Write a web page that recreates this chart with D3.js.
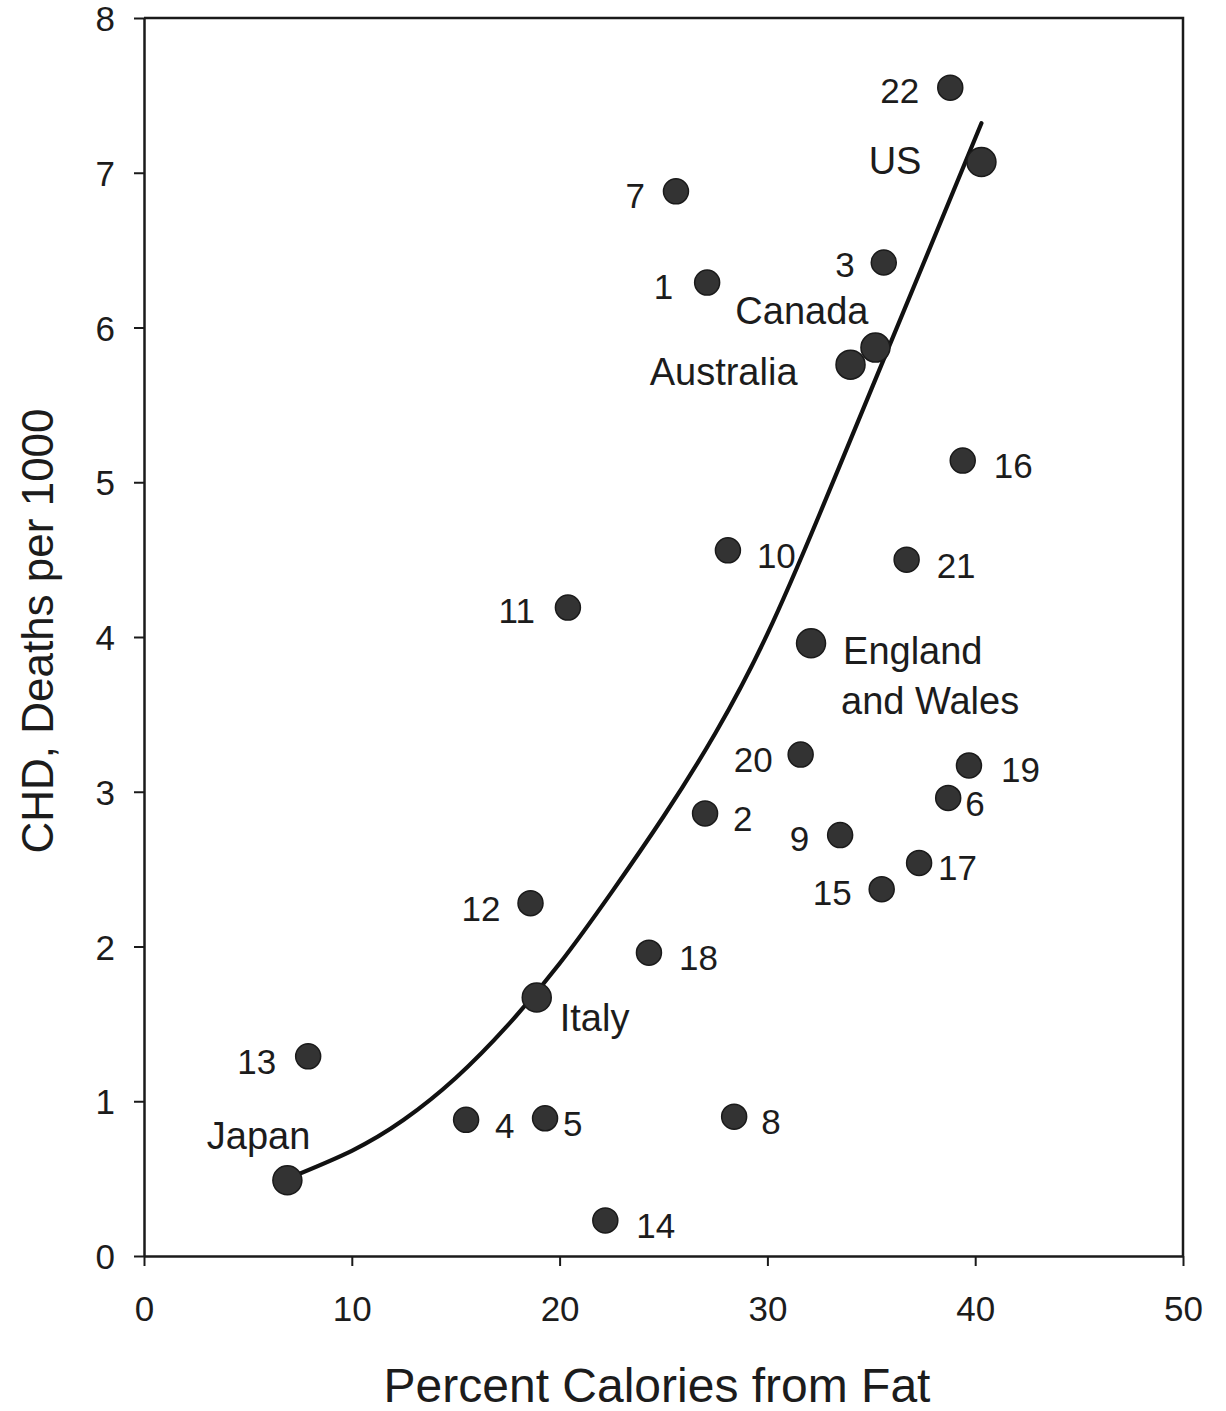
<!DOCTYPE html>
<html>
<head>
<meta charset="utf-8">
<script src="https://cdn.jsdelivr.net/npm/d3@7"></script>
<style>
  html, body { margin: 0; padding: 0; background: #fff; }
  svg { display: block; }
  text { font-family: "Liberation Sans", Arial, Helvetica, sans-serif; fill: #1c1c1c; }
</style>
</head>
<body>
<svg id="chart" width="1226" height="1411"></svg>
<script>
// Numbered studies: percent of calories from fat vs CHD deaths per 1000
const studyIds  = ["1","2","3","4","5","6","7","8","9","10","11","12","13","14","15","16","17","18","19","20","21","22"];
const studyFat  = [27.1, 27.0, 35.6, 15.5, 19.3, 38.7, 25.6, 28.4, 33.5, 28.1, 20.4, 18.6, 7.9, 22.2, 35.5, 39.4, 37.3, 24.3, 39.7, 31.6, 36.7, 38.8];
const studyCHD  = [6.29, 2.86, 6.42, 0.88, 0.89, 2.96, 6.88, 0.90, 2.72, 4.56, 4.19, 2.28, 1.29, 0.23, 2.37, 5.14, 2.54, 1.96, 3.17, 3.24, 4.50, 7.55];

// Named countries
const countryNames = ["Japan", "Italy", "England and Wales", "Australia", "Canada", "US"];
const countryFat   = [6.9, 18.9, 32.1, 34.0, 35.2, 40.3];
const countryCHD   = [0.49, 1.67, 3.96, 5.76, 5.87, 7.07];

// Fitted trend curve through the countries
const fitFat = [6.9, 10, 12.5, 15, 17.5, 20, 22.5, 25, 27.5, 30, 32.5, 35, 37.5, 40.3];
const fitCHD = [0.50, 0.68, 0.88, 1.15, 1.49, 1.89, 2.35, 2.84, 3.38, 4.02, 4.79, 5.60, 6.41, 7.32];

// Axis ticks and titles
const xTicks = [0, 10, 20, 30, 40, 50];
const yTicks = [0, 1, 2, 3, 4, 5, 6, 7, 8];
const xTitle = "Percent Calories from Fat";
const yTitle = "CHD, Deaths per 1000";

// Label placement (pixel offsets from the marker centre)
const studyLabelPos = {
  "1": [-34, 4, "end"],  "2": [28, 5, "start"],  "3": [-29, 2, "end"],  "4": [29, 6, "start"],
  "5": [18, 5, "start"], "6": [17, 5, "start"],  "7": [-31, 4, "end"],  "8": [27, 5, "start"],
  "9": [-31, 3, "end"],  "10": [29, 5, "start"], "11": [-33, 3, "end"], "12": [-30, 5, "end"],
  "13": [-32, 5, "end"], "14": [31, 5, "start"], "15": [-30, 3, "end"], "16": [31, 5, "start"],
  "17": [19, 4, "start"],"18": [30, 5, "start"], "19": [32, 4, "start"],"20": [-28, 5, "end"],
  "21": [30, 6, "start"],"22": [-31, 3, "end"]
};
const countryLabelPos = {
  "Japan": [[23, -45, "end"]],
  "Italy": [[23, 20, "start"]],
  "England and Wales": [[32, 7, "start", "England"], [30, 57, "start", "and Wales"]],
  "Australia": [[-53, 7, "end"]],
  "Canada": [[-7, -37, "end"]],
  "US": [[-60, -2, "end"]]
};

const svg = d3.select("#chart");
const x = d3.scaleLinear().domain([0, 50]).range([144, 1183]);
const y = d3.scaleLinear().domain([0, 8]).range([1256, 18]);

const ink = "#1a1a1a";

// Frame: top and right edges
svg.append("path")
  .attr("d", `M${x(0)},${y(8)} H${x(50)} V${y(0)}`)
  .attr("fill", "none").attr("stroke", ink).attr("stroke-width", 2.5);

// X axis
const gx = svg.append("g").attr("transform", `translate(0,${y(0)})`)
  .call(d3.axisBottom(x).tickValues(xTicks).tickSize(10).tickPadding(30).tickSizeOuter(0).tickFormat(d3.format("d")));
// Y axis
const gy = svg.append("g").attr("transform", `translate(${x(0)},0)`)
  .call(d3.axisLeft(y).tickValues(yTicks).tickSize(10).tickPadding(19).tickSizeOuter(0).tickFormat(d3.format("d")));

[gx, gy].forEach(g => {
  g.select(".domain").attr("stroke", ink).attr("stroke-width", 2.5);
  g.selectAll(".tick line").attr("stroke", ink).attr("stroke-width", 2);
  g.selectAll(".tick text").attr("font-size", 35).attr("fill", "#1c1c1c")
    .style("font-family", "'Liberation Sans', Arial, sans-serif");
});
gy.selectAll(".tick text").attr("dy", "0.36em");

// Axis titles
svg.append("text")
  .attr("x", 657).attr("y", 1402)
  .attr("text-anchor", "middle").attr("font-size", 48)
  .text(xTitle);
svg.append("text")
  .attr("transform", `translate(53,631) rotate(-90)`)
  .attr("text-anchor", "middle").attr("font-size", 44)
  .text(yTitle);

// Trend curve (smooth natural spline through the fitted values)
const fitPts = fitFat.map((f, i) => [f, fitCHD[i]]);
svg.append("path")
  .datum(fitPts)
  .attr("d", d3.line().x(d => x(d[0])).y(d => y(d[1])).curve(d3.curveNatural))
  .attr("fill", "none").attr("stroke", "#111").attr("stroke-width", 4.2)
  .attr("stroke-linecap", "round");

// Study markers
const studies = studyIds.map((id, i) => ({ id, fat: studyFat[i], chd: studyCHD[i] }));
svg.append("g").selectAll("circle").data(studies).join("circle")
  .attr("cx", d => x(d.fat)).attr("cy", d => y(d.chd)).attr("r", 12.5)
  .attr("fill", "#333").attr("stroke", "#1a1a1a").attr("stroke-width", 1.5);

svg.append("g").selectAll("text").data(studies).join("text")
  .attr("x", d => x(d.fat) + studyLabelPos[d.id][0])
  .attr("y", d => y(d.chd) + studyLabelPos[d.id][1])
  .attr("dy", "0.36em")
  .attr("text-anchor", d => studyLabelPos[d.id][2])
  .attr("font-size", 35)
  .text(d => d.id);

// Country markers
const countries = countryNames.map((name, i) => ({ name, fat: countryFat[i], chd: countryCHD[i] }));
svg.append("g").selectAll("circle").data(countries).join("circle")
  .attr("cx", d => x(d.fat)).attr("cy", d => y(d.chd)).attr("r", 14.5)
  .attr("fill", "#333").attr("stroke", "#1a1a1a").attr("stroke-width", 1.5);

const countryLabels = countries.flatMap(d => countryLabelPos[d.name].map(p => ({
  x: x(d.fat) + p[0], y: y(d.chd) + p[1], anchor: p[2], text: p[3] || d.name
})));
svg.append("g").selectAll("text").data(countryLabels).join("text")
  .attr("x", d => d.x).attr("y", d => d.y).attr("dy", "0.36em")
  .attr("text-anchor", d => d.anchor)
  .attr("font-size", 38)
  .text(d => d.text);
</script>
</body>
</html>
